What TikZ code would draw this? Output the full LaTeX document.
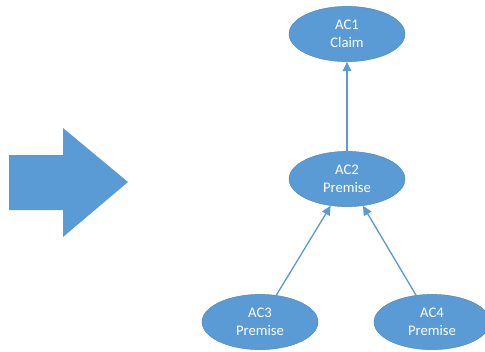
\documentclass[tikz,border=0pt]{standalone}
\usepackage{fontspec}
\setmainfont{Carlito}
\usepackage{xcolor}
\usetikzlibrary{positioning}
\usetikzlibrary{arrows.meta, shapes.geometric}

\definecolor{officeblue}{HTML}{5B9BD5}

\tikzset{
    acnode/.style={ellipse, fill=officeblue, draw=officeblue!85!black, line width=0.3pt,
        minimum width=87pt, minimum height=41.5pt, inner sep=0pt, align=center,
        text=white, font=\fontsize{11}{13.5}\selectfont},
    support/.style={draw=officeblue, line width=1pt, -{Triangle[width=6.5pt,length=7pt]}}
}

\begin{document}
\begin{tikzpicture}[x=0.75pt, y=-0.75pt]
        \useasboundingbox (0,0) rectangle (485,351);
        % block arrow
        \fill[officeblue] (9,155) -- (63,155) -- (63,128) -- (128,182)
            -- (63,237) -- (63,210) -- (9,210) -- cycle;
        % argument components
        \node[acnode] (ac1) at (347,34) {AC1\\Claim};
        \node[acnode] (ac2) at (347,179) {AC2\\Premise};
        \node[acnode] (ac3) at (260,322) {AC3\\Premise};
        \node[acnode] (ac4) at (432,322) {AC4\\Premise};
        % support relations
        \draw[support] (ac2) -- (ac1);
        \draw[support] (ac3) -- (ac2);
        \draw[support] (ac4) -- (ac2);
\end{tikzpicture}
\end{document}
